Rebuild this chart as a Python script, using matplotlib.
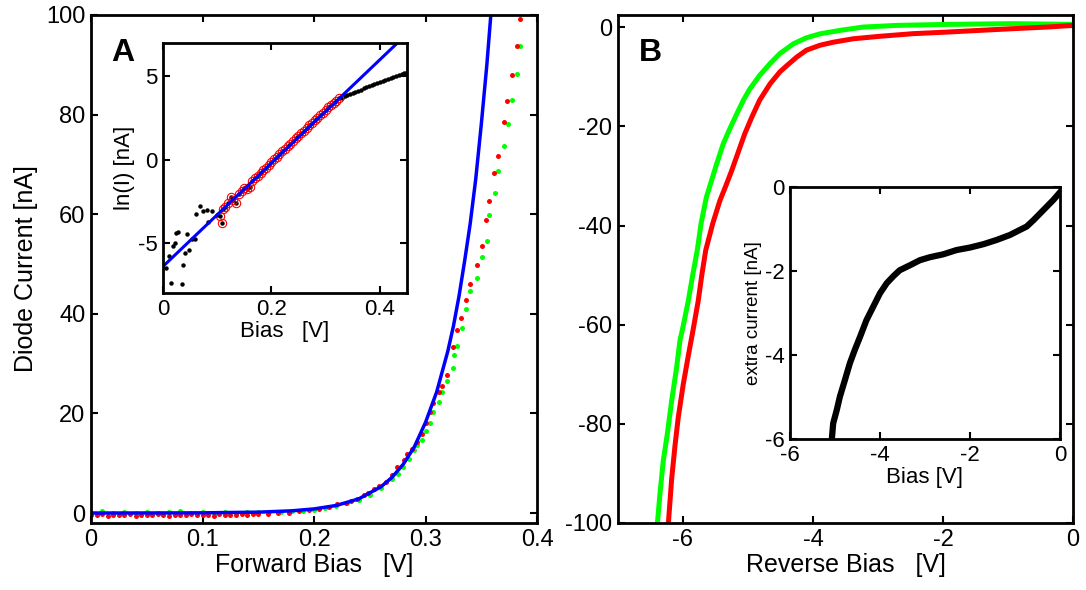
import numpy as np
import matplotlib
matplotlib.use("Agg")
import matplotlib.pyplot as plt

plt.rcParams['font.family'] = ['Liberation Sans', 'DejaVu Sans']
plt.rcParams['axes.unicode_minus'] = False

# ---- panel A: forward bias, diode current [nA] ----
red_fwd_v = [0.000, 0.005, 0.010, 0.015, 0.020, 0.025, 0.030, 0.035, 0.040, 0.045,
             0.050, 0.055, 0.060, 0.065, 0.070, 0.075, 0.080, 0.085, 0.090, 0.095,
             0.100, 0.105, 0.110, 0.115, 0.120, 0.125, 0.130, 0.135, 0.140, 0.145,
             0.150, 0.159, 0.168, 0.1773, 0.1863, 0.1953, 0.2043, 0.2133, 0.2208, 0.2283,
             0.2328, 0.2388, 0.2448, 0.2487, 0.2538, 0.2583, 0.2643, 0.2703, 0.2748, 0.2808,
             0.2838, 0.2877, 0.2928, 0.2967, 0.3003, 0.3040, 0.3063, 0.3117, 0.3147, 0.3192,
             0.3243, 0.3279, 0.3321, 0.3360, 0.3402, 0.3459, 0.3510, 0.3546, 0.3573, 0.3618,
             0.3648, 0.3700, 0.3735, 0.3778, 0.3816, 0.3843]
red_fwd_i = [-0.3, -0.4, -0.2, -0.5, -0.3, -0.4, -0.3, -0.2, -0.5, -0.4,
             -0.3, -0.3, -0.2, -0.4, -0.5, -0.3, -0.3, -0.4, -0.2, -0.3,
             -0.4, -0.3, -0.5, -0.2, -0.3, -0.4, -0.3, -0.2, -0.3, -0.2,
             -0.1, -0.1, 0.05, 0.1, 0.5, 0.7, 0.9, 1.3, 1.8, 2.1,
             2.5, 2.9, 3.6, 4.1, 4.8, 5.4, 6.3, 7.6, 9.2, 10.6,
             11.8, 12.9, 14.3, 15.8, 18.1, 20.2, 22.1, 24.2, 25.5, 27.7,
             33.4, 36.7, 39.1, 42.8, 46.0, 49.7, 53.7, 58.8, 62.7, 68.2,
             71.7, 78.6, 82.8, 88.0, 93.8, 99.1]

green_fwd_v = [0.000, 0.010, 0.020, 0.030, 0.040, 0.050, 0.060, 0.070, 0.080, 0.090,
               0.100, 0.110, 0.120, 0.130, 0.140, 0.150, 0.160, 0.170, 0.180, 0.190,
               0.200, 0.210, 0.220, 0.230, 0.240, 0.250, 0.260, 0.270, 0.275, 0.280,
               0.285, 0.290, 0.2928, 0.2964, 0.3000, 0.3036, 0.3063, 0.3117, 0.3144, 0.3192,
               0.3247, 0.3252, 0.3282, 0.3324, 0.3360, 0.3402, 0.3459, 0.3510, 0.3549, 0.3573,
               0.3621, 0.3648, 0.3702, 0.3738, 0.3780, 0.3816, 0.3843]
green_fwd_i = [0.1, 0.4, 0.0, 0.2, 0.1, 0.3, 0.0, 0.2, 0.4, 0.1,
               0.2, 0.0, 0.3, 0.1, 0.2, 0.2, 0.3, 0.3, 0.4, 0.5,
               0.7, 1.0, 1.4, 2.0, 2.7, 3.7, 5.0, 6.8, 7.9, 9.2,
               10.8, 12.6, 13.7, 14.7, 16.5, 18.1, 20.3, 22.3, 24.3, 26.5,
               29.1, 31.7, 33.5, 37.1, 40.9, 44.6, 47.2, 51.5, 54.7, 59.8,
               64.2, 68.7, 73.6, 78.1, 82.9, 88.2, 93.8]

fit_v = [0.0, 0.05, 0.10, 0.15, 0.18, 0.20, 0.22, 0.24, 0.26, 0.27, 0.28, 0.29,
         0.30, 0.31, 0.32, 0.325, 0.33, 0.335, 0.34, 0.345, 0.35, 0.355, 0.36, 0.365]
fit_i = [0.002, 0.008, 0.037, 0.17, 0.44, 0.82, 1.52, 2.83, 5.26, 7.17, 9.78, 13.3,
         18.2, 24.3, 32.5, 37.5, 43.5, 50.5, 58.0, 67.0, 78.0, 90.0, 104.0, 120.0]

# ---- inset A: ln(I) vs bias ----
ln_v = [0.0055, 0.0117, 0.0141, 0.0178, 0.0221, 0.0240, 0.0283, 0.0344, 0.0375, 0.0406,
        0.0449, 0.0486, 0.0529, 0.0590, 0.0609, 0.0682, 0.0744, 0.0805, 0.0836, 0.0898,
        0.0990, 0.1051, 0.1082,
        0.110, 0.115, 0.120, 0.125, 0.130, 0.135, 0.140, 0.145, 0.150, 0.155,
        0.160, 0.165, 0.170, 0.175, 0.180, 0.185, 0.190, 0.195, 0.200, 0.205,
        0.210, 0.215, 0.220, 0.225, 0.230, 0.235, 0.240, 0.245, 0.250, 0.255,
        0.260, 0.265, 0.270, 0.275, 0.280, 0.285, 0.290, 0.295, 0.300, 0.305,
        0.310, 0.315, 0.320, 0.325,
        0.330, 0.335, 0.340, 0.345, 0.350, 0.355, 0.360, 0.365, 0.370, 0.375,
        0.380, 0.385, 0.390, 0.395, 0.400, 0.405, 0.410, 0.415, 0.420, 0.425,
        0.430, 0.435, 0.440, 0.445, 0.450]
ln_i = [-6.49, -5.79, -7.38, -5.15, -4.99, -4.39, -4.33, -7.43, -6.29, -5.59,
        -4.43, -5.39, -4.75, -4.75, -3.25, -2.79, -3.09, -2.99, -3.75, -3.09,
        -3.29, -3.39, -3.79,
        -2.95, -2.80, -2.60, -2.25, -2.40, -2.60, -2.05, -1.85, -1.70, -1.75,
        -1.65, -1.25, -1.10, -0.95, -0.78, -0.62, -0.47, -0.30, -0.15, 0.02,
        0.18, 0.33, 0.50, 0.66, 0.82, 0.97, 1.12, 1.29, 1.44, 1.60,
        1.75, 1.90, 2.06, 2.21, 2.37, 2.52, 2.68, 2.83, 2.98, 3.14,
        3.28, 3.42, 3.55, 3.68,
        3.72, 3.80, 3.88, 3.95, 4.02, 4.08, 4.15, 4.21, 4.28, 4.35,
        4.41, 4.47, 4.55, 4.60, 4.66, 4.72, 4.78, 4.84, 4.90, 4.95,
        5.00, 5.08, 5.14, 5.22, 5.29]
ln_fit_v = [0.0, 0.45]
ln_fit_i = [-6.4, 7.55]

# ---- panel B: reverse bias ----
green_rev_v = [0.0, -0.918, -1.94, -2.71, -3.23, -3.58, -3.89, -4.10, -4.30, -4.51,
               -4.66, -4.82, -4.97, -5.07, -5.17, -5.28, -5.38, -5.48, -5.56, -5.64,
               -5.72, -5.78, -5.85, -5.918, -6.00, -6.046, -6.097, -6.174, -6.241, -6.303,
               -6.354, -6.395]
green_rev_i = [0.6, 0.75, 0.6, 0.4, 0.06, -0.6, -1.3, -2.1, -3.3, -5.3,
               -7.3, -9.7, -12.4, -14.7, -17.4, -20.5, -23.5, -27.5, -30.9, -34.3,
               -39.5, -45.0, -50.0, -55.2, -60.5, -63.2, -68.6, -75.4, -82.1, -87.5,
               -94.2, -100.4]
red_rev_v = [0.0, -0.405, -0.918, -1.43, -1.94, -2.46, -2.97, -3.38, -3.69, -3.89,
             -4.10, -4.25, -4.40, -4.51, -4.66, -4.82, -4.94, -5.05, -5.15, -5.25,
             -5.35, -5.43, -5.54, -5.65, -5.71, -5.765, -5.842, -5.918, -5.995, -6.072,
             -6.123, -6.174, -6.226]
red_rev_i = [0.4, 0.06, -0.26, -0.6, -0.95, -1.27, -1.8, -2.3, -3.0, -3.6,
             -4.6, -6.0, -7.7, -9.0, -11.4, -14.7, -18.1, -21.5, -25.2, -28.9,
             -32.3, -34.9, -39.5, -45.0, -50.0, -55.2, -60.9, -66.3, -72.0, -78.7,
             -84.5, -91.2, -100.4]

# ---- inset B: extra current ----
extra_v = [-0.02, -0.15, -0.37, -0.59, -0.74, -0.89, -1.11, -1.41, -1.70, -2.00,
           -2.30, -2.59, -2.89, -3.11, -3.33, -3.56, -3.70, -3.85, -4.00, -4.15,
           -4.30, -4.44, -4.56, -4.67, -4.78, -4.89, -4.96, -5.04, -5.07]
extra_i = [-0.15, -0.31, -0.55, -0.79, -0.94, -1.02, -1.14, -1.26, -1.36, -1.44,
           -1.50, -1.60, -1.67, -1.74, -1.86, -1.98, -2.12, -2.29, -2.53, -2.85,
           -3.17, -3.56, -3.88, -4.20, -4.60, -4.99, -5.31, -5.63, -6.02]

RED = (1, 0, 0)
GREEN = (0, 1, 0)
BLUE = (0, 0, 1)


def style(ax, size):
    for s in ax.spines.values():
        s.set_linewidth(2)
    ax.tick_params(direction='in', top=True, right=True, length=5, width=1.5,
                   labelsize=size, pad=4)


fig = plt.figure(figsize=(10.86, 5.90), dpi=100)

# panel A
axA = fig.add_axes([0.0838, 0.1136, 0.4107, 0.861])
axA.plot(green_fwd_v, green_fwd_i, 'o', color=GREEN, ms=3.6, mew=0)
axA.plot(red_fwd_v, red_fwd_i, 'o', color=RED, ms=3.6, mew=0)
axA.plot(fit_v, fit_i, '-', color=BLUE, lw=2.5)
axA.set_xlim(0, 0.4)
axA.set_ylim(-2, 100)
axA.set_xticks([0, 0.1, 0.2, 0.3, 0.4])
axA.set_xticklabels(['0', '0.1', '0.2', '0.3', '0.4'])
axA.set_yticks([0, 20, 40, 60, 80, 100])
axA.set_xlabel('Forward Bias   [V]', fontsize=18, labelpad=2)
axA.set_ylabel('Diode Current [nA]', fontsize=18, labelpad=6)
style(axA, 17)
axA.text(0.045, 0.955, 'A', transform=axA.transAxes, fontsize=23,
         fontweight='bold', va='top', ha='left')

# inset A
axa = fig.add_axes([0.150, 0.503, 0.2247, 0.424])
lv = np.array(ln_v)
li = np.array(ln_i)
axa.plot(lv, li, 'o', color='k', ms=3.2, mew=0)
m = (lv >= 0.104) & (lv <= 0.326)
axa.plot(lv[m], li[m], 'o', mfc='none', mec=RED, ms=6, mew=0.8)
axa.plot(ln_fit_v, ln_fit_i, '-', color=BLUE, lw=2.2)
axa.set_xlim(0, 0.45)
axa.set_ylim(-8, 7)
axa.set_xticks([0, 0.2, 0.4])
axa.set_xticklabels(['0', '0.2', '0.4'])
axa.set_yticks([-5, 0, 5])
axa.set_xlabel('Bias   [V]', fontsize=16, labelpad=1)
axa.set_ylabel('ln(I) [nA]', fontsize=16, labelpad=2)
style(axa, 16)

# panel B
axB = fig.add_axes([0.569, 0.1136, 0.419, 0.861])
axB.plot(green_rev_v, green_rev_i, '-', color=GREEN, lw=3.6)
axB.plot(red_rev_v, red_rev_i, '-', color=RED, lw=3.6)
axB.set_xlim(-7, 0)
axB.set_ylim(-100, 2.5)
axB.set_xticks([-6, -4, -2, 0])
axB.set_yticks([-100, -80, -60, -40, -20, 0])
axB.set_xlabel('Reverse Bias   [V]', fontsize=18, labelpad=2)
style(axB, 17)
axB.text(0.045, 0.955, 'B', transform=axB.transAxes, fontsize=23,
         fontweight='bold', va='top', ha='left')

# inset B
axb = fig.add_axes([0.7274, 0.2559, 0.2486, 0.427])
axb.plot(extra_v, extra_i, '-', color='k', lw=4.5)
axb.set_xlim(-6, 0)
axb.set_ylim(-6, 0)
axb.set_xticks([-6, -4, -2, 0])
axb.set_yticks([-6, -4, -2, 0])
axb.set_xlabel('Bias [V]', fontsize=16, labelpad=1)
axb.set_ylabel('extra current [nA]', fontsize=13.5, labelpad=2)
style(axb, 16)

fig.savefig('out.png', dpi=100)
